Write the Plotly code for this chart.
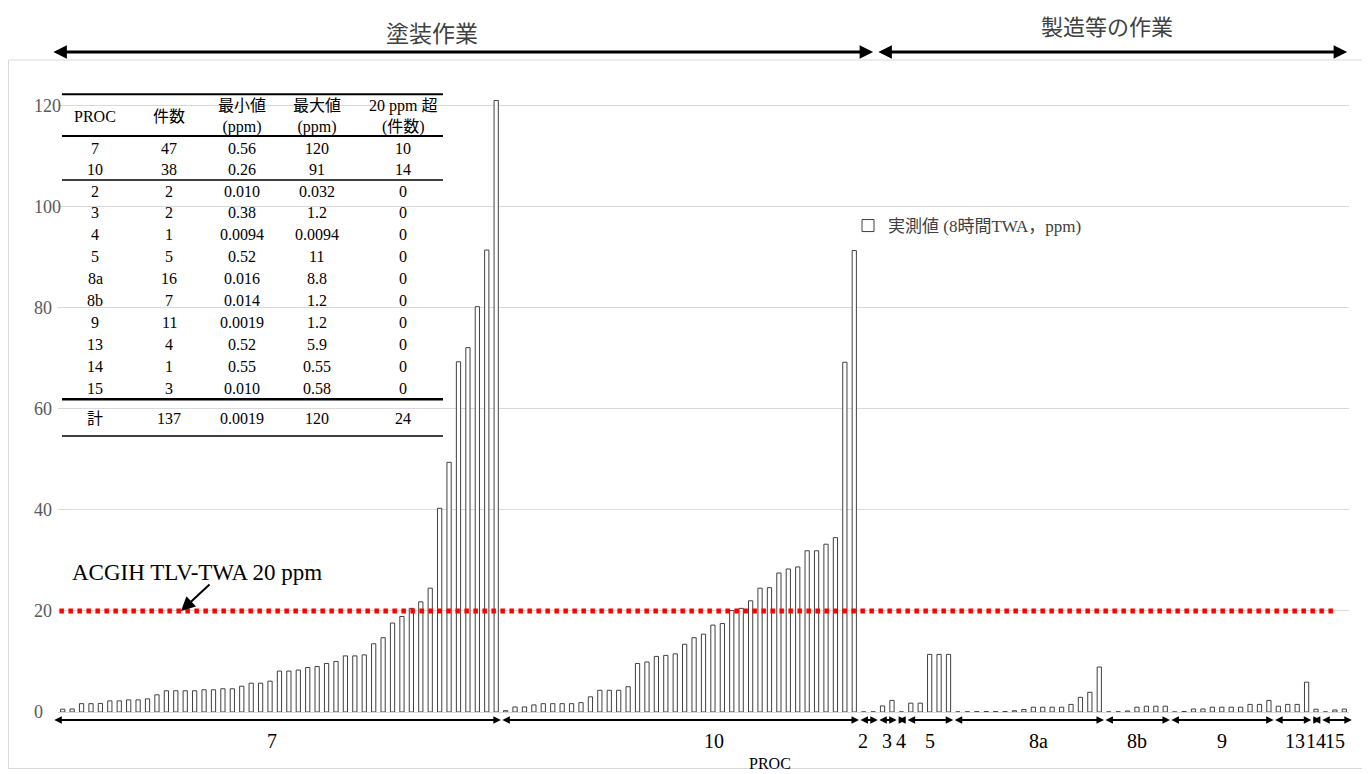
import plotly.graph_objects as go

# ---------------- data ----------------
GROUPS = ["7", "10", "2", "3", "4", "5", "8a", "8b", "9", "13", "14", "15"]
VALS_7 = [0.56, 0.6, 1.65, 1.65, 1.7, 2.2, 2.2, 2.4, 2.4, 2.6, 3.4, 4.2, 4.2, 4.2, 4.2, 4.4,
          4.4, 4.6, 4.6, 5.1, 5.7, 5.7, 6.1, 8.1, 8.1, 8.3, 8.8, 9.0, 9.6, 10.0, 11.1, 11.1,
          11.3, 13.5, 14.7, 17.6, 18.9, 20.5, 21.8, 24.5, 40.3, 49.4, 69.3, 72.1, 80.2, 91.4, 121]
VALS_10 = [0.26, 1.0, 1.0, 1.4, 1.65, 1.65, 1.65, 1.65, 1.85, 3.0, 4.3, 4.3, 4.3, 5.0, 9.6,
           9.9, 11.0, 11.2, 11.5, 13.4, 14.7, 15.4, 17.2, 17.5, 20.1, 20.5, 22.0, 24.5, 24.6,
           27.5, 28.3, 28.7, 31.9, 31.9, 33.2, 34.5, 69.2, 91.3]
VALS_2 = [0.010, 0.032]
VALS_3 = [1.2, 2.3]
VALS_4 = [0.0094]
VALS_5 = [1.75, 1.75, 11.4, 11.4, 11.4]
VALS_8A = [0.016, 0.05, 0.08, 0.1, 0.1, 0.1, 0.25, 0.5, 0.95, 0.95, 0.95, 0.95, 1.5, 2.9, 3.9, 8.9]
VALS_8B = [0.014, 0.05, 0.2, 0.95, 1.15, 1.15, 1.15]
VALS_9 = [0.0019, 0.1, 0.6, 0.6, 0.95, 0.95, 0.95, 0.95, 1.5, 1.5, 2.3]
VALS_13 = [1.15, 1.5, 1.5, 5.9]
VALS_14 = [0.55]
VALS_15 = [0.010, 0.4, 0.58]
GROUP_VALUES = [VALS_7, VALS_10, VALS_2, VALS_3, VALS_4, VALS_5, VALS_8A, VALS_8B,
                VALS_9, VALS_13, VALS_14, VALS_15]

TLV = 20
Y_TICKS = [0, 20, 40, 60, 80, 100, 120]

TABLE_HEADER = ["PROC", "件数", "最小値<br>(ppm)", "最大値<br>(ppm)", "20 ppm 超<br>(件数)"]
TABLE_PROC = ["7", "10", "2", "3", "4", "5", "8a", "8b", "9", "13", "14", "15"]
TABLE_N = ["47", "38", "2", "2", "1", "5", "16", "7", "11", "4", "1", "3"]
TABLE_MIN = ["0.56", "0.26", "0.010", "0.38", "0.0094", "0.52", "0.016", "0.014", "0.0019",
             "0.52", "0.55", "0.010"]
TABLE_MAX = ["120", "91", "0.032", "1.2", "0.0094", "11", "8.8", "1.2", "1.2", "5.9",
             "0.55", "0.58"]
TABLE_OVER = ["10", "14", "0", "0", "0", "0", "0", "0", "0", "0", "0", "0"]
TABLE_TOTAL = ["計", "137", "0.0019", "120", "24"]

LEGEND_NAME = "実測値 (8時間TWA，ppm)"
TOP_LABELS = ["塗装作業", "製造等の作業"]

# ---------------- layout helpers ----------------
OFF = 8                      # page body margin
W, H = 1370 - OFF, 774 - OFF
L, T, PW, PH = 58 - OFF, 80 - OFF, 1291, 632
XMIN, XMAX = -0.5, 136.5
YMAX = PH / 5.054

def pxx(px):                 # page pixel -> paper x
    return (px - OFF - L) / PW

def pxy(py):                 # page pixel -> paper y
    return (T + PH - (py - OFF)) / PH

def dx(i):
    return (i - XMIN) / (XMAX - XMIN)

SERIF = "Liberation Serif, Noto Sans CJK JP"

values = [v for g in GROUP_VALUES for v in g]
xs = list(range(len(values)))

fig = go.Figure()
fig.add_trace(go.Bar(
    x=xs, y=values, width=0.45, name=LEGEND_NAME,
    marker=dict(color="white", line=dict(color="#404040", width=1)),
    showlegend=True,
))

shapes = []
annotations = []

# chart area border
shapes.append(dict(type="rect", xref="paper", yref="paper",
                   x0=pxx(8.5), x1=pxx(1362.5), y0=pxy(768.5), y1=pxy(60),
                   line=dict(color="#D9D9D9", width=1), layer="below"))

# TLV line
shapes.append(dict(type="line", xref="x", yref="y", x0=-0.35, x1=135.2, y0=TLV, y1=TLV,
                   line=dict(color="#FF0000", width=5, dash="4.5px,4.5px")))

# y tick labels (left aligned)
for v in Y_TICKS:
    annotations.append(dict(xref="paper", yref="y", x=pxx(32), y=v, text=str(v),
                            showarrow=False, xanchor="left", yanchor="middle",
                            font=dict(family=SERIF, size=18, color="#595959")))

def harrow(x_tail, x_head, yp, width, size):
    return dict(xref="paper", yref="paper", x=x_head, y=yp, ax=(x_tail - x_head) * PW, ay=0,
                axref="pixel", ayref="pixel", text="", showarrow=True, arrowhead=2,
                arrowside="end+start", arrowwidth=width, arrowsize=size, arrowcolor="black",
                standoff=0, startstandoff=0)

# group arrows + labels along bottom
label_shift = {"7": -0.8, "10": 3.6, "2": -0.6, "8a": 1.1, "13": 0.3}
start = 0
for name, g in zip(GROUPS, GROUP_VALUES):
    b0 = start - 0.5
    b1 = start + len(g) - 0.5
    if start == 0:
        b0 -= 0.55
    if start + len(g) == len(values):
        b1 += 0.3
    annotations.append(harrow(dx(b0), dx(b1), pxy(720), 2, 0.75))
    cx = start + (len(g) - 1) / 2 + label_shift.get(name, 0)
    annotations.append(dict(xref="paper", yref="paper", x=dx(cx), y=pxy(741), text=name,
                            showarrow=False, xanchor="center", yanchor="middle",
                            font=dict(family=SERIF, size=20, color="black")))
    start += len(g)

annotations.append(dict(xref="paper", yref="paper", x=pxx(770), y=pxy(763), text="PROC",
                        showarrow=False, xanchor="center", yanchor="middle",
                        font=dict(family=SERIF, size=16, color="black")))

# top arrows and labels
annotations.append(harrow(dx(-1.15), dx(86.0), pxy(52), 3, 0.9))
annotations.append(harrow(dx(86.4), dx(136.3), pxy(52), 3, 0.9))
annotations.append(dict(xref="paper", yref="paper", x=pxx(432), y=pxy(32), text=TOP_LABELS[0],
                        showarrow=False, xanchor="center", yanchor="middle",
                        font=dict(family="Noto Sans CJK JP", size=23, color="#404040")))
annotations.append(dict(xref="paper", yref="paper", x=pxx(1107), y=pxy(25), text=TOP_LABELS[1],
                        showarrow=False, xanchor="center", yanchor="middle",
                        font=dict(family="Noto Sans CJK JP", size=22, color="#404040")))

# TLV label and arrow
annotations.append(dict(xref="paper", yref="paper", x=pxx(70), y=pxy(572),
                        text="ACGIH TLV-TWA 20 ppm", showarrow=False, xanchor="left",
                        yanchor="middle", font=dict(family=SERIF, size=23, color="black")))
annotations.append(dict(xref="paper", yref="paper", x=pxx(181), y=pxy(611), ax=30, ay=-28,
                        text="", showarrow=True, arrowhead=2, arrowwidth=2, arrowsize=1.4,
                        arrowcolor="black"))

# summary table
col_x = [95, 169, 241.7, 316.7, 403.3]
tfont = dict(family=SERIF, size=16, color="black")
for cx, htxt in zip(col_x, TABLE_HEADER):
    annotations.append(dict(xref="paper", yref="paper", x=pxx(cx), y=pxy(116.5), text=htxt,
                            showarrow=False, xanchor="center", yanchor="middle", font=tfont))
row_y = [148.3, 169.3] + [191 + k * 21.9 for k in range(10)]
for i, ry in enumerate(row_y):
    row = [TABLE_PROC[i], TABLE_N[i], TABLE_MIN[i], TABLE_MAX[i], TABLE_OVER[i]]
    for cx, t in zip(col_x, row):
        annotations.append(dict(xref="paper", yref="paper", x=pxx(cx), y=pxy(ry), text=t,
                                showarrow=False, xanchor="center", yanchor="middle", font=tfont))
for cx, t in zip(col_x, TABLE_TOTAL):
    annotations.append(dict(xref="paper", yref="paper", x=pxx(cx), y=pxy(418.3), text=t,
                            showarrow=False, xanchor="center", yanchor="middle", font=tfont))
for ly, lw in [(94.3, 2), (136, 2), (180, 1.7), (399.3, 2.6), (436, 1.7)]:
    shapes.append(dict(type="line", xref="paper", yref="paper", x0=pxx(62), x1=pxx(443),
                       y0=pxy(ly), y1=pxy(ly), line=dict(color="black", width=lw)))

fig.update_layout(
    width=W, height=H,
    margin=dict(l=L, r=W - L - PW, t=T, b=H - T - PH, pad=0),
    paper_bgcolor="white", plot_bgcolor="white",
    template="none",
    bargap=0.55,
    xaxis=dict(range=[XMIN, XMAX], showgrid=False, zeroline=False, showline=False,
               showticklabels=False, ticks=""),
    yaxis=dict(range=[0, YMAX], tickvals=Y_TICKS, showticklabels=False, ticks="",
               showgrid=True, gridcolor="#D9D9D9", gridwidth=1,
               zeroline=True, zerolinecolor="#D9D9D9", zerolinewidth=1, showline=False),
    legend=dict(x=pxx(848), y=pxy(226), xanchor="left", yanchor="middle",
                bgcolor="rgba(0,0,0,0)", font=dict(family=SERIF, size=17, color="#404040")),
    shapes=shapes,
    annotations=annotations,
    font=dict(family=SERIF),
)

fig.write_html("out.html")
